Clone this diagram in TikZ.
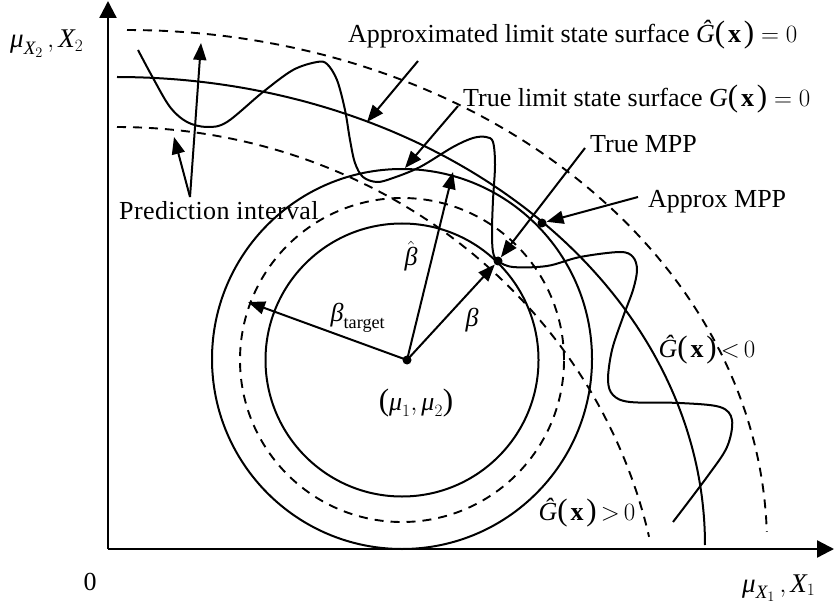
\documentclass[tikz,border=0pt]{standalone}
\usepackage{amsmath}
\usepackage{fontspec}
\setmainfont{Liberation Serif}
\usetikzlibrary{arrows.meta}
\newcommand\itx[1]{\text{\itshape #1}}
\newcommand\bfx{\text{\bfseries x}}
\newcommand\lpar{\text{\fontsize{31}{31}\selectfont(}}
\newcommand\rpar{\text{\fontsize{31}{31}\selectfont)}}
\newcommand\pbx{\lpar\mskip2mu\bfx\mskip2mu\rpar}
\begin{document}
\begin{tikzpicture}[x=1pt,y=-1pt,
  ln/.style={line width=2pt},
  dsh/.style={line width=1.9pt, dash pattern=on 9pt off 7pt},
  arr/.style={line width=2pt, -{Triangle[length=17pt,width=13pt]}},
  axisline/.style={line width=2.3pt, -{Triangle[length=17pt,width=17pt]}},
  lbl/.style={font=\fontsize{26}{30}\selectfont, inner sep=0pt},
  axlbl/.style={font=\fontsize{27}{32}\selectfont, inner sep=0pt},
  dot/.style={circle, fill, inner sep=0pt, minimum size=9pt}]
\useasboundingbox (0,0) rectangle (834,609);
% axes
\coordinate (O) at (108,549);
\coordinate (ytip) at (108,1);
\coordinate (xtip) at (834,549);
\draw[axisline] (O) -- (ytip);
\draw[axisline] (O) -- (xtip);
% circles
\draw[ln] (402,360) circle[radius=136.5pt];
\draw[dsh] (402,360) circle[radius=162pt];
\draw[ln] (402,359) circle[radius=190pt];
% true limit state surface
\draw[ln] plot[domain=90:0, samples=120] ({117+588*cos(\x)}, {545-468*sin(\x)});
% prediction bounds
\draw[dsh] plot[domain=90:1.45, samples=120] ({127+640*cos(\x)}, {545-515*sin(\x)});
\draw[dsh] plot[domain=90:12.5, samples=120] ({117+545*cos(\x)}, {650-523*sin(\x)});
% approximated limit state surface
\draw[ln] plot[smooth, tension=0.55] coordinates {
 (138,50) (153,78) (170,107) (187,122) (207,127) (227,122) (263,92) (293,70)
 (317,62) (327,64) (337,80) (345,110) (350,140) (355,163) (363,177) (377,182)
 (393,178) (420,167) (453,147) (473,138) (486,137) (493,142) (495,165) (493,200)
 (492,230) (493,252) (498,261) (513,267) (547,266) (580,257) (620,252) (633,257)
 (637,270) (633,290) (623,317) (612,350) (608,380) (613,395) (630,402) (680,403)
 (720,407) (732,420) (727,447) (707,477) (673,522)};
% points
\node[dot] (ctr) at (407,360) {};
\node[dot] (tmpp) at (498,261) {};
\node[dot] (ampp) at (542,223) {};
% radius arrows
\coordinate (bhat) at (453,172);
\coordinate (btgt) at (248,302);
\draw[arr] (ctr.center) -- (tmpp);
\draw[arr] (ctr.center) -- (bhat);
\draw[arr] (ctr.center) -- (btgt);
% labels
\node[axlbl, anchor=base west] (ylab) at (10,48) {$\itx{μ}_{\itx{X}_{2}}\,, \itx{X}_{2}$};
\node[lbl] (zero) at (90,582) {0};
\node[axlbl, anchor=base west] (xlab) at (742,592) {$\itx{μ}_{\itx{X}_{1}}\,, \itx{X}_{1}$};
\node[lbl, anchor=base west] (alss) at (348,43) {Approximated limit state surface $\itx{Ĝ}\pbx = 0$};
\node[lbl, anchor=base west] (tlss) at (463,107) {True limit state surface $\itx{G}\pbx = 0$};
\node[lbl, anchor=base west] (tmpplab) at (590,153) {True MPP};
\node[lbl, anchor=base west] (ampplab) at (648,208) {Approx MPP};
\node[lbl, anchor=base west] (pilab) at (119,220) {\addfontfeature{LetterSpace=1.5}Prediction interval};
\node[lbl] (bhatlab) at (411,256) {$\hat{\itx{β}}$};
\node[lbl] (blab) at (472,320) {$\itx{β}$};
\node[lbl] (btlab) at (358,318) {$\itx{β}_{\text{target}}$};
\node[lbl] (mulab) at (416,403) {$\lpar\itx{μ}_{1}, \itx{μ}_{2}\rpar$};
\node[lbl] (gneg) at (707,350) {$\itx{Ĝ}\pbx\mskip-2mu<\mskip-2mu 0$};
\node[lbl] (gpos) at (587,513) {$\itx{Ĝ}\pbx\mskip-2mu>\mskip-2mu 0$};
% pointer arrows
\coordinate (pibase) at (190,197);
\coordinate (pilow) at (174,137);
\coordinate (pihigh) at (201,43);
\draw[arr] (pibase) -- (pilow);
\draw[arr] (pibase) -- (pihigh);
\coordinate (alssS) at (418,61);
\coordinate (alssT) at (367,122);
\draw[arr] (alssS) -- (alssT);
\coordinate (tlssS) at (458,106);
\coordinate (tlssT) at (405,168);
\draw[arr] (tlssS) -- (tlssT);
\coordinate (tmppS) at (585,148);
\draw[arr] (tmppS) -- (tmpp);
\coordinate (amppS) at (638,197);
\draw[arr] (amppS) -- (ampp);
\end{tikzpicture}
\end{document}
